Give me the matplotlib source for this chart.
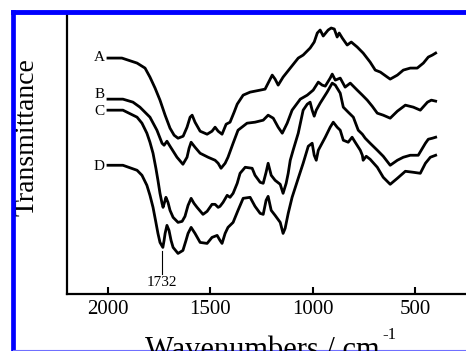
import matplotlib
matplotlib.use("Agg")
import matplotlib.pyplot as plt
from matplotlib.lines import Line2D

plt.rcParams['font.family'] = ['Liberation Serif', 'DejaVu Serif']

# FTIR spectra, transmittance in arbitrary units (offset per curve)
wn_a = [2000, 1932, 1858, 1819, 1795, 1770, 1746, 1721, 1697, 1677, 1658, 1633, 1614, 1599,
        1589, 1575, 1550, 1516, 1492, 1477, 1462, 1443, 1423, 1404, 1384, 1369, 1340, 1306,
        1257, 1233, 1208, 1198, 1184, 1169, 1145, 1110, 1071, 1047, 1013, 993, 978, 964, 949,
        925, 910, 895, 881, 871, 856, 832, 812, 783, 754, 720, 695, 670, 636, 622, 587, 558,
        524, 490, 460, 436, 416, 400]
tr_a = [235, 235, 230, 225, 216, 205, 193, 178, 165, 158, 155, 157, 166, 176,
        178, 171, 162, 159, 162, 166, 162, 159, 169, 171, 181, 189, 198, 201,
        203, 204, 214, 218, 214, 208, 216, 225, 235, 238, 245, 251, 260, 263, 257,
        263, 265, 264, 256, 260, 255, 248, 251, 246, 240, 231, 223, 221, 216, 214, 218, 223,
        225, 225, 230, 236, 238, 240]

wn_b = [2000, 1927, 1878, 1844, 1795, 1761, 1736, 1726, 1712, 1697, 1663, 1634, 1614, 1604,
        1594, 1575, 1550, 1511, 1477, 1462, 1448, 1428, 1414, 1389, 1365, 1321, 1282, 1242,
        1218, 1193, 1169, 1149, 1125, 1101, 1061, 1027, 998, 973, 954, 939, 915, 905, 890,
        866, 842, 817, 783, 758, 734, 710, 685, 656, 622, 587, 548, 509, 475, 440, 421, 400]
tr_b = [194, 194, 191, 186, 176, 163, 150, 148, 152, 147, 136, 129, 136, 145,
        151, 146, 140, 136, 133, 130, 125, 130, 136, 150, 163, 170, 171, 173,
        178, 175, 166, 160, 170, 183, 194, 198, 203, 211, 208, 207, 215, 219, 213,
        215, 206, 210, 203, 198, 193, 187, 180, 178, 175, 182, 188, 186, 183, 191, 193, 192]

wn_c = [2000, 1927, 1858, 1834, 1810, 1795, 1780, 1766, 1756, 1746, 1736, 1731, 1721, 1717,
        1707, 1697, 1682, 1658, 1638, 1624, 1609, 1594, 1580, 1565, 1536, 1516, 1492, 1477,
        1462, 1453, 1438, 1418, 1404, 1389, 1369, 1355, 1330, 1296, 1282, 1257, 1242, 1228,
        1218, 1203, 1184, 1159, 1145, 1130, 1120, 1110, 1096, 1071, 1047, 1027, 1013, 1003,
        993, 983, 964, 930, 905, 890, 866, 851, 827, 802, 778, 758, 744, 720, 685, 656,
        622, 587, 558, 524, 485, 450, 436, 416, 400]
tr_c = [183, 183, 176, 170, 160, 151, 140, 125, 113, 100, 90, 86, 93, 96,
        91, 83, 76, 71, 72, 77, 88, 95, 90, 86, 79, 82, 89, 89,
        86, 87, 91, 98, 96, 100, 110, 120, 126, 125, 118, 111, 110, 121,
        130, 118, 113, 109, 100, 110, 120, 133, 143, 160, 183, 189, 191, 183,
        177, 183, 190, 201, 210, 208, 200, 186, 181, 176, 163, 159, 155, 150, 143, 137,
        128, 133, 136, 138, 138, 150, 154, 155, 156]

wn_d = [2000, 1927, 1858, 1834, 1810, 1795, 1780, 1766, 1756, 1746, 1732, 1726, 1721, 1712,
        1702, 1692, 1682, 1658, 1634, 1619, 1609, 1594, 1575, 1550, 1516, 1492, 1467, 1453,
        1443, 1428, 1414, 1389, 1365, 1340, 1306, 1282, 1257, 1242, 1228, 1218, 1203, 1184,
        1159, 1145, 1135, 1120, 1101, 1071, 1047, 1022, 1003, 993, 983, 973, 939, 915, 900,
        881, 866, 851, 827, 808, 793, 768, 758, 754, 739, 720, 685, 656, 622, 587, 548,
        509, 475, 450, 426, 400]
tr_d = [128, 128, 123, 118, 108, 98, 86, 71, 60, 51, 46, 53, 60, 68,
        63, 53, 46, 40, 43, 53, 60, 66, 60, 51, 50, 56, 58, 53,
        50, 60, 66, 71, 83, 95, 96, 87, 80, 79, 93, 97, 83, 78,
        71, 60, 65, 80, 96, 115, 130, 147, 150, 138, 133, 143, 156, 166, 171,
        166, 163, 153, 151, 156, 151, 143, 138, 133, 137, 134, 126, 116, 109, 115, 122,
        121, 120, 130, 136, 138]

curves = [(wn_a, tr_a, 'A', 236), (wn_b, tr_b, 'B', 199),
          (wn_c, tr_c, 'C', 182), (wn_d, tr_d, 'D', 127)]

fig = plt.figure(figsize=(4.66, 3.51), dpi=100)
ax = fig.add_axes([0.1438, 0.1638, 0.879, 0.7992])

for wn, tr, name, ly in curves:
    ax.plot(wn, tr, color='black', lw=2.0, solid_joinstyle='round')
    ax.text(2015, ly, name, ha='right', va='center', fontsize=11)

# marker for the carbonyl band
ax.plot([1736, 1736], [19, 42], color='black', lw=0.8)
ax.text(1736, 11, '1732', ha='center', va='center', fontsize=11)

ax.set_xlim(2200, 200)
ax.set_ylim(0, 280)
ax.set_xticks([2000, 1500, 1000, 500])
ax.set_yticks([])
ax.tick_params(axis='x', direction='in', length=5, width=1.5, labelsize=15, pad=5)
for s in ['top', 'right']:
    ax.spines[s].set_visible(False)
for s in ['left', 'bottom']:
    ax.spines[s].set_linewidth(1.6)

ax.set_ylabel('Transmittance', fontsize=20)
ax.yaxis.set_label_coords(-0.068, 0.556)

# x label runs off the bottom edge like in the original
fig.text(145 / 466, -0.02, 'Wavenumbers / cm', fontsize=22, va='baseline')
fig.text(382 / 466, 0.0328, '-1', fontsize=12, va='baseline')

# blue frame around the figure
fig.add_artist(Line2D([0.0286, 1.0], [0.966, 0.966], color='#0000ff', lw=3.5,
                      solid_capstyle='projecting'))
fig.add_artist(Line2D([0.0286, 0.0286], [0.0, 0.966], color='#0000ff', lw=3.4,
                      solid_capstyle='projecting'))
fig.add_artist(Line2D([0.0286, 1.0], [0.0028, 0.0028], color='#7070ff', lw=0.8))

fig.savefig('out.png', dpi=100)
